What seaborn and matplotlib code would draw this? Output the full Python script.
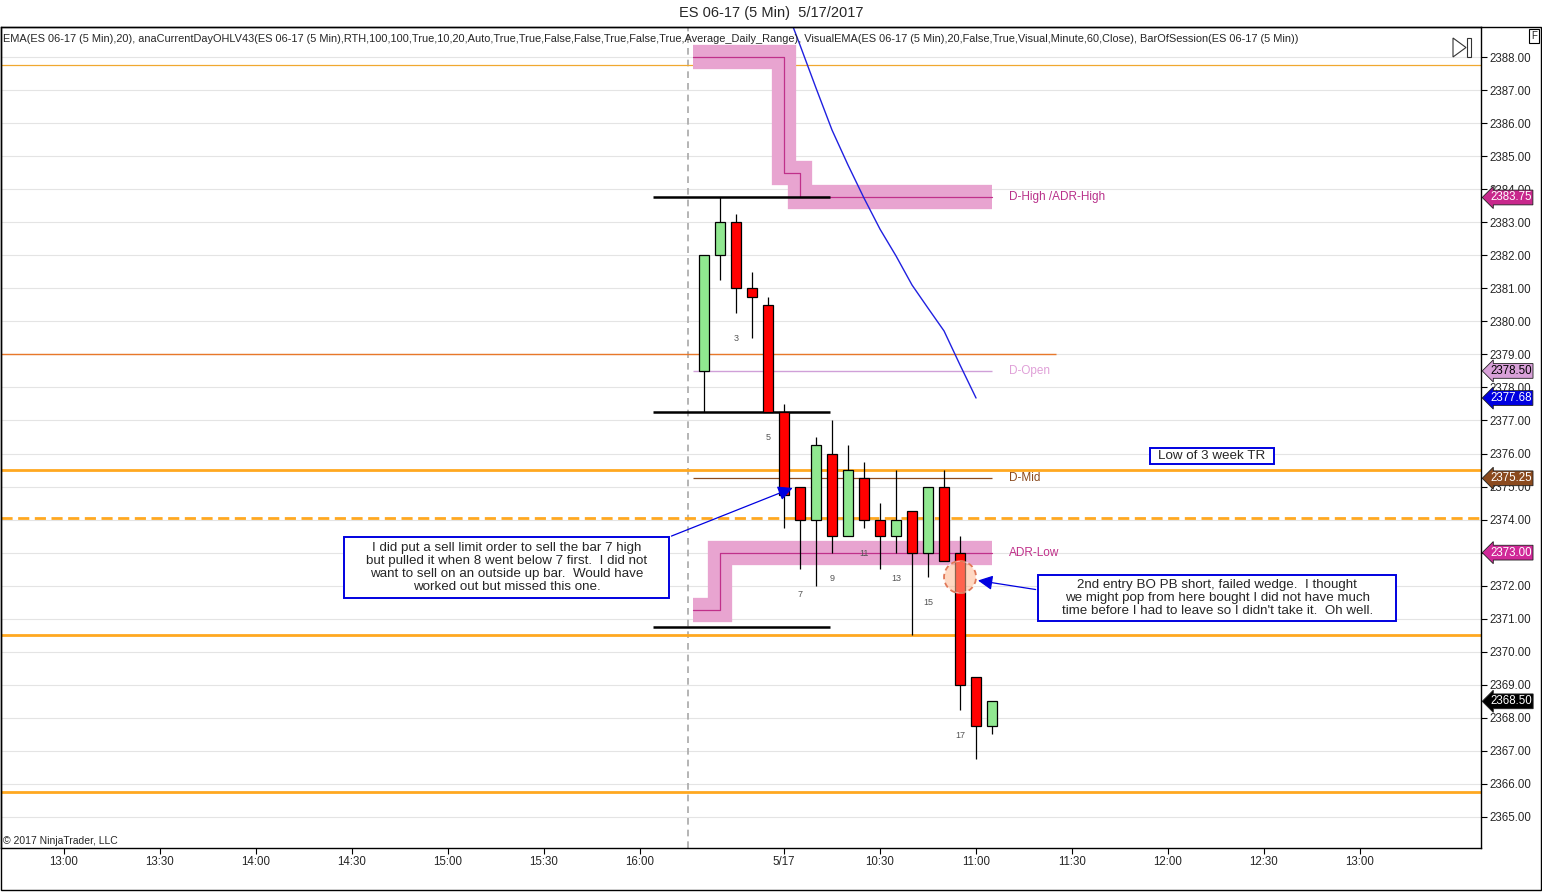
import pandas as pd
import matplotlib.pyplot as plt
import matplotlib.transforms as mtrans
from matplotlib.patches import Rectangle, Ellipse, Polygon
import seaborn as sns

sns.set_style('white')
plt.rcParams['font.family'] = ['Liberation Sans', 'DejaVu Sans']

# ES 06-17 5 min bars, 5/17/2017 session
bar_times = ['09:35', '09:40', '09:45', '09:50', '09:55', '10:00', '10:05', '10:10', '10:15', '10:20',
             '10:25', '10:30', '10:35', '10:40', '10:45', '10:50', '10:55', '11:00', '11:05']
opens = [2378.50, 2382.00, 2383.00, 2381.00, 2380.50, 2377.25, 2375.00, 2374.00, 2376.00, 2373.50,
         2375.25, 2374.00, 2373.50, 2374.25, 2373.00, 2375.00, 2373.00, 2369.25, 2367.75]
highs = [2382.00, 2383.75, 2383.25, 2381.50, 2380.75, 2377.50, 2375.00, 2376.50, 2377.00, 2376.25,
         2375.75, 2374.50, 2375.50, 2374.25, 2375.00, 2375.50, 2373.50, 2369.25, 2368.50]
lows = [2377.25, 2381.25, 2380.25, 2379.50, 2377.25, 2373.75, 2372.50, 2372.00, 2373.00, 2373.50,
        2373.75, 2372.50, 2373.00, 2370.50, 2372.25, 2372.75, 2368.25, 2366.75, 2367.50]
closes = [2382.00, 2383.00, 2381.00, 2380.75, 2377.25, 2374.75, 2374.00, 2376.25, 2373.50, 2375.50,
          2374.00, 2373.50, 2374.00, 2373.00, 2375.00, 2372.75, 2369.00, 2367.75, 2368.50]
numbered_bars = [3, 5, 7, 9, 11, 13, 15, 17]

# EMA(20)
ema_times = ['10:00', '10:05', '10:10', '10:15', '10:20', '10:25', '10:30', '10:35', '10:40',
             '10:45', '10:50', '10:55', '11:00']
ema_values = [2389.63, 2388.36, 2387.06, 2385.79, 2384.73, 2383.73, 2382.79, 2381.98, 2381.10,
              2380.40, 2379.71, 2378.68, 2377.68]

# anaCurrentDayOHL / ADR levels (step plots)
adr_high_times = ['09:30', '10:00', '10:05', '11:05']
adr_high_values = [2388.00, 2384.50, 2383.75, 2383.75]
adr_low_times = ['09:30', '09:40', '11:05']
adr_low_values = [2371.25, 2373.00, 2373.00]
d_open = 2378.50
d_mid = 2375.25

range_levels = [2383.75, 2377.25, 2370.75]
orange_thin = 2387.75
orange_prev = 2379.00
orange_thick = [2375.50, 2370.50, 2365.75]
orange_dashed = 2374.05

tag_values = [2383.75, 2378.50, 2377.68, 2375.25, 2373.00, 2368.50]
tag_colors = ['#C8288C', '#D8A0D8', '#0000E0', '#8B4A1E', '#D02898', '#000000']
tag_text = ['white', 'black', 'white', 'white', 'white', 'white']

prev_ticks = ['13:00', '13:30', '14:00', '14:30', '15:00', '15:30', '16:00']
day_ticks = ['10:00', '10:30', '11:00', '11:30', '12:00', '12:30', '13:00']


def prev_idx(t):
    h, m = map(int, t.split(':'))
    return (h * 60 + m - 13 * 60) / 5


def day_idx(t):
    h, m = map(int, t.split(':'))
    return 39 + (h * 60 + m - 9 * 60 - 30) / 5


x = [day_idx(t) for t in bar_times]
df = pd.DataFrame({'x': x, 'open': opens, 'high': highs, 'low': lows, 'close': closes})
df['up'] = df['close'] >= df['open']

fig = plt.figure(figsize=(15.42, 8.93), dpi=100)
ax = fig.add_axes([1 / 1542, 45 / 893, 1480 / 1542, 821 / 893])
ax.set_xlim(-3.94, 88.56)
ax.set_ylim(2364.06, 2388.91)

# grid
for p in range(2365, 2389):
    ax.axhline(p, color='#E4E4E4', lw=0.8, zorder=0)
ax.axvline(39, color='#A8A8A8', lw=1.2, ls=(0, (4, 3)), zorder=1)

# horizontal levels
ax.axhline(orange_thin, color='#F0A830', lw=0.9, zorder=1)
ax.hlines(orange_prev, -4, 62, color='#E8782A', lw=1.0, zorder=1)
for p in orange_thick:
    ax.axhline(p, color='#FFA820', lw=2.0, zorder=1)
ax.axhline(orange_dashed, color='#FFA820', lw=2.0, ls=(0, (4, 2)), zorder=1)

start = x[0] - 0.7
hx = [start] + [day_idx(t) for t in adr_high_times[1:]]
lx = [start] + [day_idx(t) for t in adr_low_times[1:]]
for xs, ys in [(hx, adr_high_values), (lx, adr_low_values)]:
    ax.plot(xs, ys, drawstyle='steps-post', color='#E8A4D0', lw=17.5,
            solid_joinstyle='miter', solid_capstyle='butt', zorder=1.2)
    ax.plot(xs, ys, drawstyle='steps-post', color='#C0308A', lw=0.9, zorder=1.3)
ax.hlines(d_open, start, x[-1], color='#D0A0D8', lw=1.0, zorder=1.3)
ax.hlines(d_mid, start, x[-1], color='#8B4A1E', lw=0.9, zorder=1.3)
ax.hlines(range_levels, 36.8, 47.9, color='black', lw=1.8, zorder=1.4)

# candles
ax.vlines(df['x'], df['low'], df['high'], color='black', lw=0.9, zorder=2)
bottoms = df[['open', 'close']].min(axis=1)
heights = (df['close'] - df['open']).abs()
colors = ['#90E890' if u else '#FF0000' for u in df['up']]
ax.bar(df['x'], heights, bottom=bottoms, width=0.62, color=colors,
       edgecolor='black', linewidth=0.9, zorder=2.2)
for n in numbered_bars:
    ax.text(x[n - 1], lows[n - 1] - 0.77, str(n), ha='center', va='center',
            fontsize=6.5, color='#555555', zorder=2.3)

# EMA
ema_df = pd.DataFrame({'x': [day_idx(t) for t in ema_times], 'ema': ema_values})
sns.lineplot(data=ema_df, x='x', y='ema', ax=ax, color='#2020E0', lw=1.0, zorder=2.5)

# level labels
lab_x = 59.05
ax.text(lab_x, 2383.75, 'D-High /ADR-High', color='#B8308A', fontsize=8.5, va='center')
ax.text(lab_x, d_open, 'D-Open', color='#E0A0D8', fontsize=8.5, va='center')
ax.text(lab_x, d_mid, 'D-Mid', color='#8B4A1E', fontsize=8.5, va='center')
ax.text(lab_x, 2373.0, 'ADR-Low', color='#C0308A', fontsize=8.5, va='center')

# annotations
note_fs = 9.6
ax.add_patch(Rectangle((17.5, 2371.63), 20.3, 1.84, fc='white', ec='#0000E0', lw=1.4, zorder=4))
ax.text(27.65, 2372.55, 'I did put a sell limit order to sell the bar 7 high\n'
        'but pulled it when 8 went below 7 first.  I did not\n'
        'want to sell on an outside up bar.  Would have\n'
        'worked out but missed this one.', ha='center', va='center',
        fontsize=note_fs, linespacing=1.1, zorder=5)
ax.annotate('', xy=(45.7, 2374.99), xytext=(37.8, 2373.47),
            arrowprops=dict(arrowstyle='-|>', color='#0000E0', lw=0.9, mutation_scale=22), zorder=5)

ax.add_patch(Rectangle((60.9, 2370.93), 22.35, 1.39, fc='white', ec='#0000E0', lw=1.4, zorder=4))
ax.text(72.07, 2371.62, '2nd entry BO PB short, failed wedge.  I thought\n'
        'we might pop from here bought I did not have much\n'
        "time before I had to leave so I didn't take it.  Oh well.", ha='center', va='center',
        fontsize=note_fs, linespacing=1.1, zorder=5)
ax.annotate('', xy=(56.95, 2372.17), xytext=(60.9, 2371.87),
            arrowprops=dict(arrowstyle='-|>', color='#0000E0', lw=0.9, mutation_scale=22), zorder=5)

ax.add_patch(Rectangle((67.9, 2375.68), 7.7, 0.49, fc='white', ec='#0000E0', lw=1.4, zorder=4))
ax.text(71.75, 2375.92, 'Low of 3 week TR', ha='center', va='center', fontsize=note_fs, zorder=5)

ax.add_patch(Ellipse((56.0, 2372.26), 2.0, 0.97, fc='#FFB890', alpha=0.55, zorder=3))
ax.add_patch(Ellipse((56.0, 2372.26), 2.0, 0.97, fc='none', ec='#E07858', lw=1.3,
                     ls=(0, (3, 2)), zorder=3))

# axes
ax.yaxis.tick_right()
ax.set_yticks(range(2365, 2389))
ax.set_yticklabels([f'{p:.2f}' for p in range(2365, 2389)], fontsize=8.3)
xt = [prev_idx(t) for t in prev_ticks] + [day_idx(t) for t in day_ticks]
xl = prev_ticks + ['5/17'] + day_ticks[1:]
ax.set_xticks(xt)
ax.set_xticklabels(xl, fontsize=8.3)
ax.tick_params(axis='both', direction='out', length=4, width=0.8, color='black', pad=2,
               bottom=True, right=True, left=False)
ax.set_xlabel('')
ax.set_ylabel('')
for s in ax.spines.values():
    s.set_color('black')
    s.set_linewidth(1.0)

# price tags on right axis
trans = mtrans.blended_transform_factory(ax.transAxes, ax.transData)
for v, c, tc in zip(tag_values, tag_colors, tag_text):
    ax.text(1.0 + 9 / 1480, v, f'{v:.2f}', transform=trans, ha='left', va='center',
            fontsize=8.3, color=tc, clip_on=False, zorder=6,
            bbox=dict(boxstyle='larrow,pad=0.12', fc=c, ec='#202020', lw=0.6))

# header text and frame
fig.text(0.5, 1 - 13 / 893, 'ES 06-17 (5 Min)  5/17/2017', ha='center', va='center', fontsize=10.5)
fig.text(3 / 1542, 1 - 39 / 893,
         'EMA(ES 06-17 (5 Min),20), anaCurrentDayOHLV43(ES 06-17 (5 Min),RTH,100,100,True,10,20,Auto,'
         'True,True,False,False,True,False,True,Average_Daily_Range), VisualEMA(ES 06-17 (5 Min),20,False,'
         'True,Visual,Minute,60,Close), BarOfSession(ES 06-17 (5 Min))', ha='left', va='center',
         fontsize=7.9)
fig.text(3 / 1542, 1 - 841 / 893, '© 2017 NinjaTrader, LLC', ha='left', va='center', fontsize=7.5)
fig.patches.append(Rectangle((0.5 / 1542, 3 / 893), 1540.5 / 1542, 863 / 893, fill=False,
                             ec='black', lw=1.0, transform=fig.transFigure))
fig.text(1534 / 1542, 1 - 36 / 893, 'F', ha='center', va='center', fontsize=7,
         bbox=dict(boxstyle='square,pad=0.2', fc='white', ec='black', lw=0.8))
fig.patches.append(Polygon([(1453 / 1542, 1 - 38 / 893), (1453 / 1542, 1 - 57 / 893),
                            (1466 / 1542, 1 - 47.5 / 893)], closed=True, fill=False, ec='#333333',
                           lw=0.8, transform=fig.transFigure))
fig.patches.append(Rectangle((1467 / 1542, 1 - 57 / 893), 4 / 1542, 19 / 893, fill=False,
                             ec='#333333', lw=0.8, transform=fig.transFigure))

fig.savefig('out.png', dpi=100)
